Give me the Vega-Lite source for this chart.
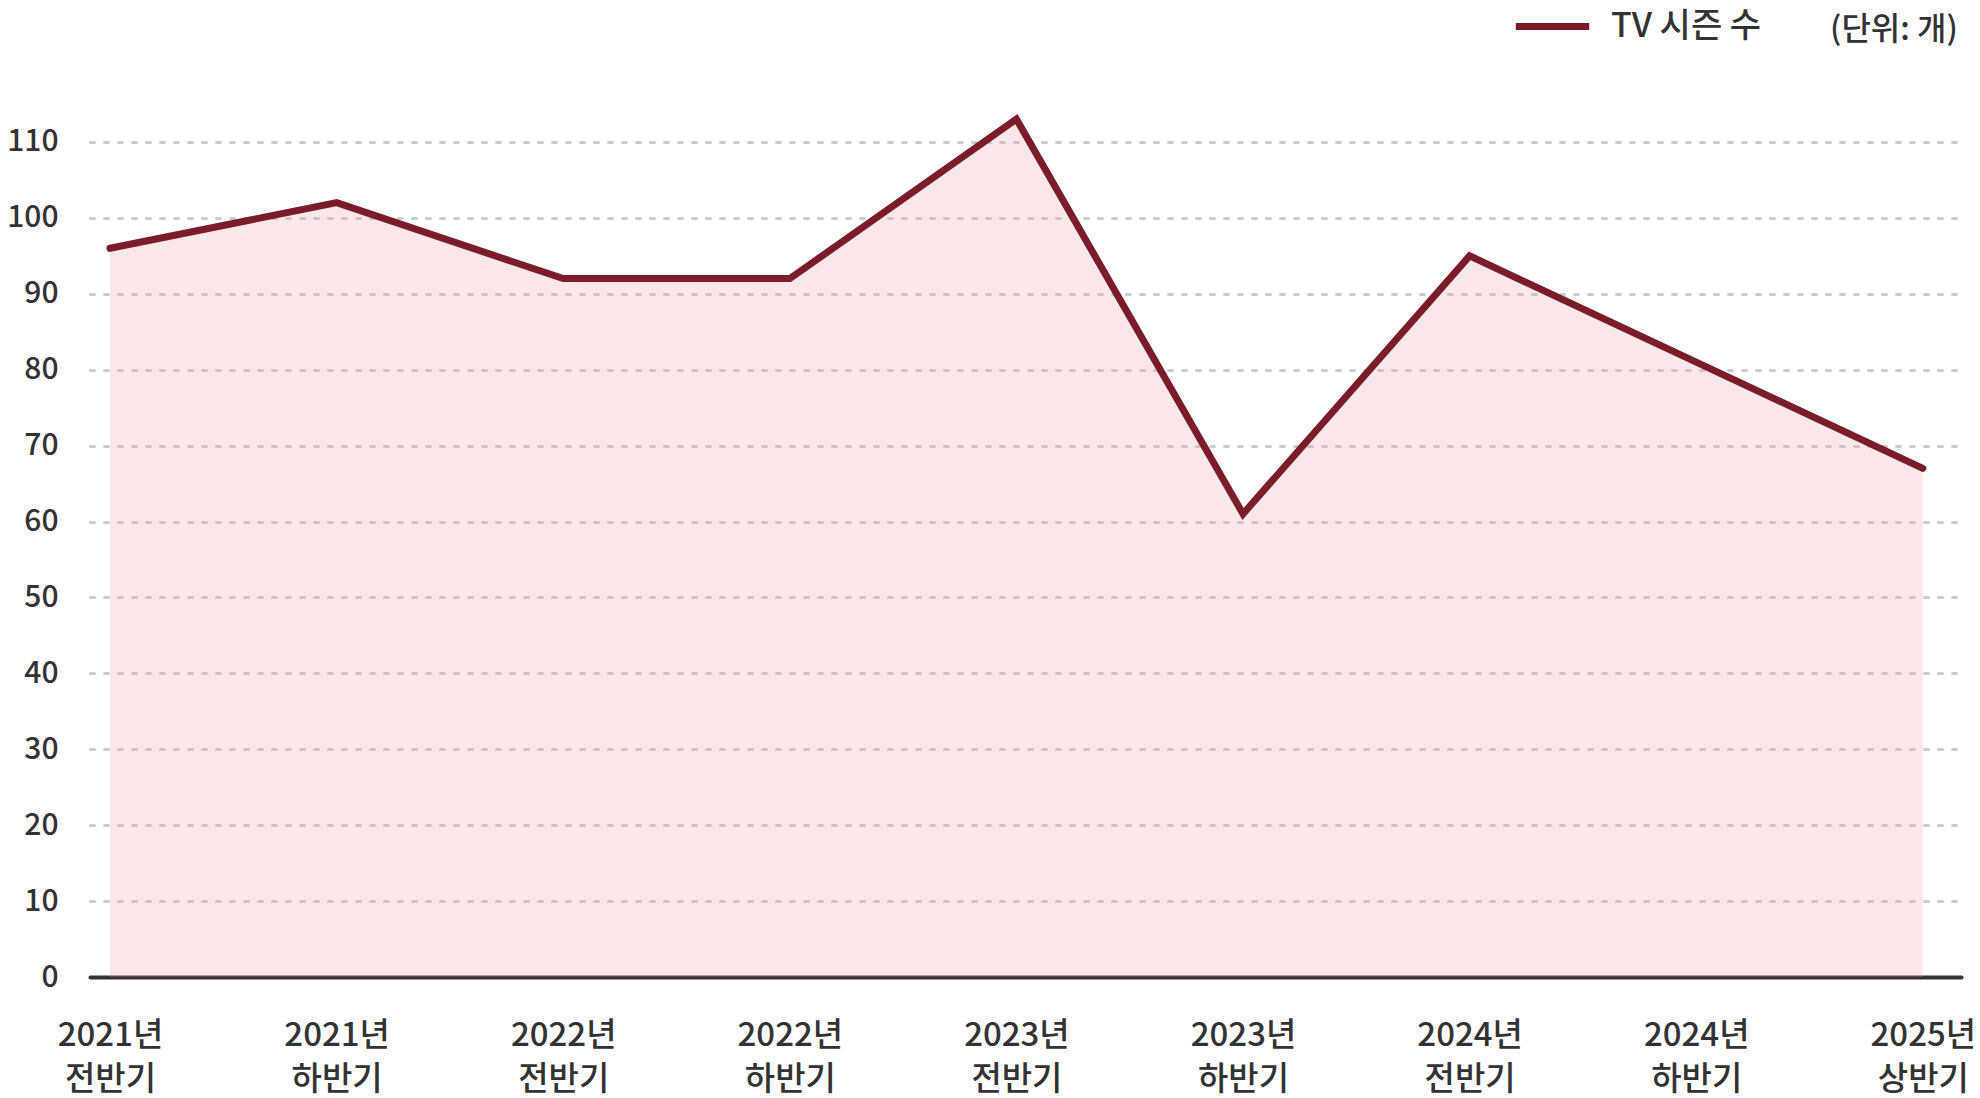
{
  "$schema": "https://vega.github.io/schema/vega-lite/v6.json",
  "width": 1871,
  "height": 873,
  "autosize": {"type": "none"},
  "padding": {"left": 90, "top": 104, "right": 19, "bottom": 121},
  "background": "white",
  "config": {"view": {"stroke": null}, "font": "Noto Sans CJK KR"},
  "data": {"values": [
    {"period": "2021년 전반기", "value": 96, "series": "TV 시즌 수"},
    {"period": "2021년 하반기", "value": 102, "series": "TV 시즌 수"},
    {"period": "2022년 전반기", "value": 92, "series": "TV 시즌 수"},
    {"period": "2022년 하반기", "value": 92, "series": "TV 시즌 수"},
    {"period": "2023년 전반기", "value": 113, "series": "TV 시즌 수"},
    {"period": "2023년 하반기", "value": 61, "series": "TV 시즌 수"},
    {"period": "2024년 전반기", "value": 95, "series": "TV 시즌 수"},
    {"period": "2024년 하반기", "value": 81, "series": "TV 시즌 수"},
    {"period": "2025년 상반기", "value": 67, "series": "TV 시즌 수"}
  ]},
  "encoding": {
    "x": {"field": "period", "type": "ordinal", "sort": null,
      "scale": {"type": "point", "padding": 0.1284, "align": 0.344},
      "axis": {"title": null, "labelAngle": 0, "labelExpr": "split(datum.value, ' ')", "labelFontSize": 33, "labelFontWeight": 500, "labelColor": "#333333", "labelLineHeight": 44, "labelPadding": 42, "ticks": false, "tickSize": 0, "domainColor": "#333333", "domainWidth": 4, "domainCap": "round", "grid": false, "labelOverlap": false}},
    "y": {"field": "value", "type": "quantitative",
      "scale": {"domain": [0, 115], "nice": false},
      "axis": {"title": null, "values": [0, 10, 20, 30, 40, 50, 60, 70, 80, 90, 100, 110], "domain": false, "ticks": false, "tickSize": 0, "labelPadding": 32, "labelFontSize": 30, "labelFontWeight": 500, "labelColor": "#333333", "grid": true, "gridColor": "#cccccc", "gridWidth": 3, "gridDash": [4, 10], "gridCap": "round"}}
  },
  "layer": [
    {"mark": {"type": "area", "fill": "#e89aa5", "fillOpacity": 0.24, "clip": false}},
    {"mark": {"type": "line", "strokeWidth": 7, "strokeCap": "round", "strokeJoin": "miter", "clip": false},
     "encoding": {"color": {"field": "series", "type": "nominal", "scale": {"range": ["#7b1c2a"]},
       "legend": {"orient": "none", "legendX": 1422, "legendY": -118, "title": "(단위: 개)", "titleOrient": "right", "titleAnchor": "middle", "titleBaseline": "top", "titlePadding": 69, "titleFontSize": 32, "titleFontWeight": 500, "titleColor": "#333333", "titleFont": "Noto Sans CJK KR", "symbolType": "stroke", "symbolSize": 5400, "symbolStrokeWidth": 7, "labelFontSize": 34, "labelFontWeight": 500, "labelColor": "#333333", "labelOffset": 18, "labelLimit": 300}}}}
  ]
}
